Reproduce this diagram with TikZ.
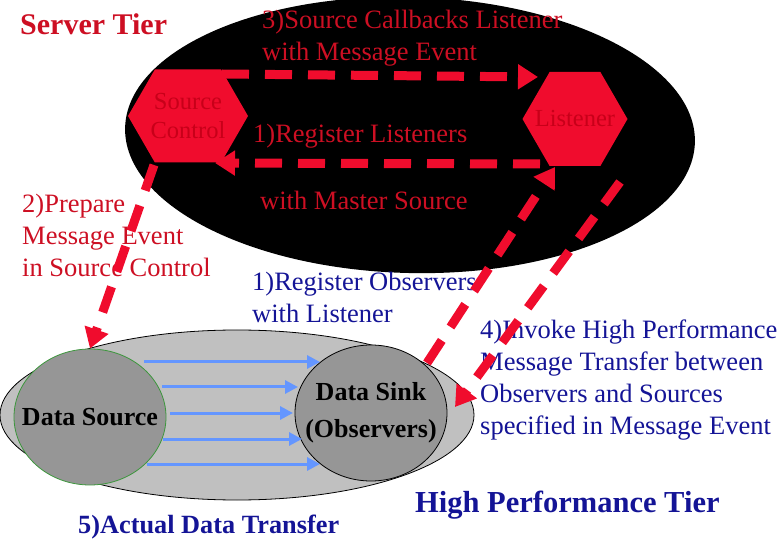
\documentclass[tikz,border=0pt]{standalone}
\usepackage{fontspec}
\setmainfont{Liberation Serif}
\usetikzlibrary{arrows.meta,shapes.symbols,shapes.geometric}
\definecolor{hexred}{RGB}{240,12,45}
\definecolor{inred}{RGB}{200,0,25}
\definecolor{txtred}{RGB}{205,15,35}
\definecolor{txtblue}{RGB}{20,20,150}
\definecolor{flowblue}{RGB}{100,150,255}
\definecolor{tiergray}{RGB}{192,192,192}
\definecolor{blobgray}{RGB}{150,150,150}
\definecolor{rimgreen}{RGB}{60,150,60}

\begin{document}
\begin{tikzpicture}[x=1pt,y=-1pt]
  \tikzset{ hex/.style={signal,signal to=west and east,signal pointer angle=120,fill=hexred,text=inred,
              inner ysep=0pt,inner xsep=-5pt,minimum width=120pt,minimum height=93pt,align=center,
              font=\fontsize{24.5}{29}\selectfont},
    blob/.style={ellipse,fill=blobgray,inner ysep=0pt,inner xsep=-17pt,minimum width=152pt,minimum height=136pt,
              align=center,font=\fontsize{26}{37}\selectfont\bfseries},
    dsh/.style={hexred,line width=9pt,dash pattern=on 27pt off 16pt,-{Triangle[length=20pt,width=24pt]}},
    flow/.style={flowblue,line width=3pt,-{Triangle[length=13pt,width=13pt]}},
    rtxt/.style={txtred,anchor=west,align=left,inner sep=0pt,font=\fontsize{26.5}{32}\selectfont},
    btxt/.style={rtxt,txtblue},
  }
  \useasboundingbox (0,0) rectangle (780,556);
  \clip (0,0) rectangle (780,556);

  % server tier
  \fill[black,rotate around={-1.5:(410,135)}] (410,135) ellipse [x radius=285,y radius=138];
  \node[hex] (src) at (188,116) {Source\\Control};
  \node[hex,inner xsep=-19pt,minimum width=105pt,minimum height=94pt] (lis) at (575,119) {Listener};

  \node[rtxt,font=\fontsize{30}{32}\selectfont\bfseries] (stier) at (20,24) {Server Tier};
  \node[rtxt] (cb) at (262,38) {3)Source Callbacks Listener\\with Message Event};
  \node[rtxt] (reg) at (253,136) {1)Register Listeners};
  \node[rtxt] (mst) at (260,200) {with Master Source};
  \node[rtxt] (prep) at (22,235) {2)Prepare\\Message Event\\in Source Control};

  % high performance tier
  \draw[fill=tiergray,line width=0.8pt] (237,415) ellipse [x radius=237,y radius=85];
  \node[blob,draw=rimgreen,line width=0.8pt] (ds) at (90,417) {Data Source};
  \node[blob,draw=black,line width=0.8pt] (sink) at (371,413) {Data Sink\\(Observers)};

  \draw[flow] ([xshift=54,yshift=55]ds.center) -- ([xshift=-51,yshift=51]sink.center);
  \draw[flow] ([xshift=72,yshift=30]ds.center) -- ([xshift=-73,yshift=26]sink.center);
  \draw[flow] ([xshift=80,yshift=4]ds.center) -- ([xshift=-78,yshift=0]sink.center);
  \draw[flow] ([xshift=73,yshift=-22]ds.center) -- ([xshift=-69,yshift=-26]sink.center);
  \draw[flow] ([xshift=57,yshift=-47]ds.center) -- ([xshift=-51,yshift=-51]sink.center);

  \node[btxt] (obs) at (252,297) {1)Register Observers\\with Listener};
  \node[btxt] (inv) at (480,380) {4)Invoke High Performance\\Message Transfer between\\Observers and Sources\\specified in Message Event};
  \node[btxt,font=\fontsize{30.5}{32}\selectfont\bfseries] (htier) at (415,505) {High Performance Tier};
  \node[btxt,font=\fontsize{26.3}{32}\selectfont\bfseries] (xfer) at (78,527) {5)Actual Data Transfer};

  % messages
  \draw[dsh] ([xshift=34,yshift=42]src.center) -- ([xshift=-37,yshift=42]lis.center);
  \draw[dsh] ([xshift=-35,yshift=-45]lis.center) -- ([xshift=27,yshift=-47]src.center);
  \draw[dsh] ([xshift=-34,yshift=-49]src.center) -- (ds.north);
  \draw[dsh] ([xshift=56,yshift=50]sink.center) -- ([xshift=-20,yshift=-48]lis.center);
  \draw[dsh] ([xshift=45,yshift=-63]lis.center) -- ([xshift=84,yshift=6]sink.center);

\end{tikzpicture}
\end{document}
